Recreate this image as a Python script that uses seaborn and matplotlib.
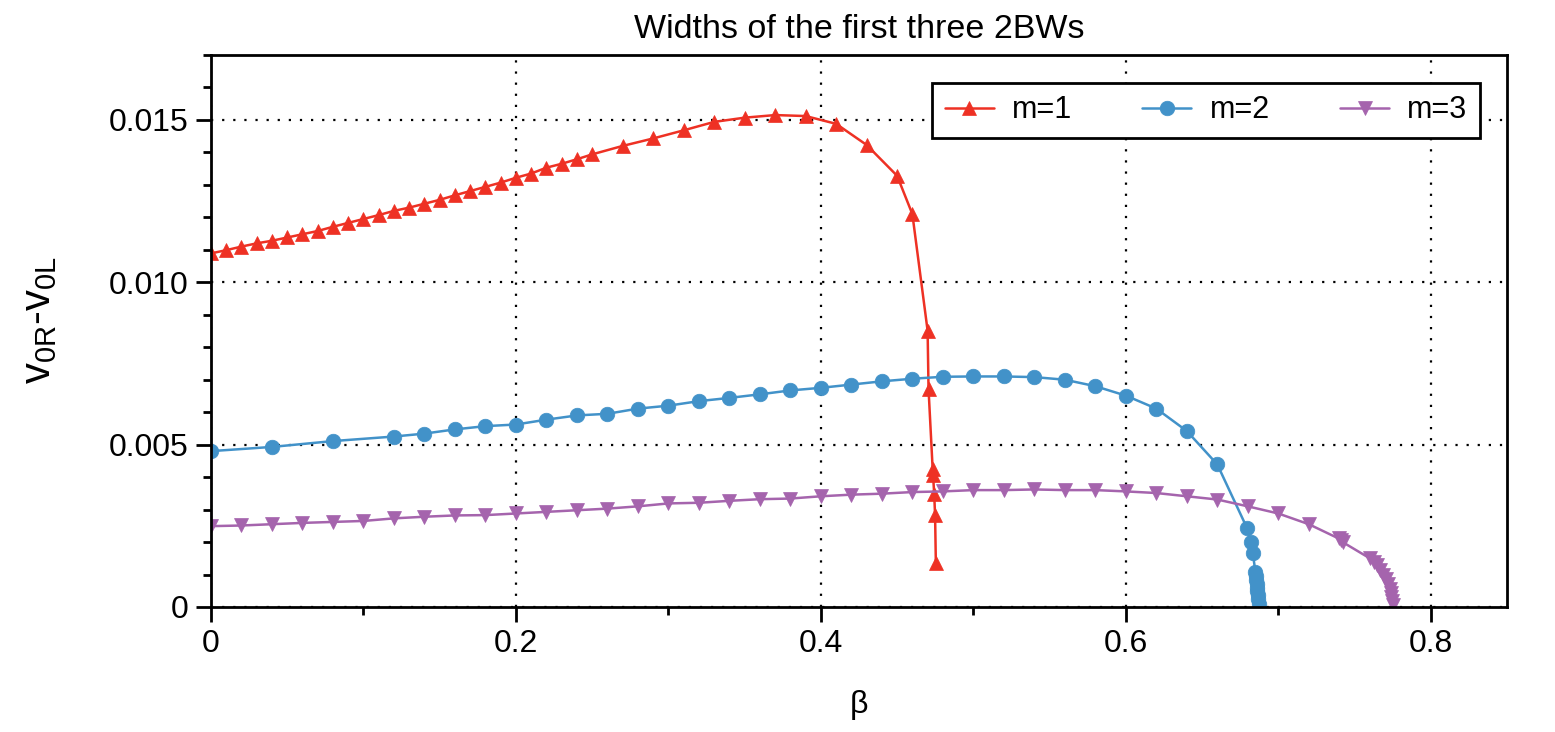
import numpy as np
import pandas as pd
import matplotlib
matplotlib.use("Agg")
import matplotlib.pyplot as plt
import seaborn as sns

# data
beta_m1 = [0.00, 0.01, 0.02, 0.03, 0.04, 0.05, 0.06, 0.07, 0.08, 0.09,
           0.10, 0.11, 0.12, 0.13, 0.14, 0.15, 0.16, 0.17, 0.18, 0.19,
           0.20, 0.21, 0.22, 0.23, 0.24, 0.25,
           0.27, 0.29, 0.31, 0.33, 0.35, 0.37, 0.39, 0.41, 0.43, 0.45,
           0.46, 0.470, 0.4706, 0.4733, 0.4736, 0.4743, 0.4749, 0.4754]
width_m1 = [0.01089, 0.01099, 0.01110, 0.01120, 0.01128, 0.01138, 0.01148, 0.01158, 0.01171, 0.01183,
            0.01195, 0.01207, 0.01220, 0.01230, 0.01242, 0.01254, 0.01268, 0.01281, 0.01294, 0.01307,
            0.01322, 0.01335, 0.01353, 0.01365, 0.01379, 0.01394,
            0.01420, 0.01443, 0.01468, 0.01494, 0.01507, 0.01515, 0.01512, 0.01488, 0.01423, 0.01328,
            0.01210, 0.00851, 0.00672, 0.00426, 0.00405, 0.00349, 0.00283, 0.00137]

beta_m2 = [0.00, 0.04, 0.08, 0.12, 0.14, 0.16, 0.18, 0.20, 0.22, 0.24,
           0.26, 0.28, 0.30, 0.32, 0.34, 0.36, 0.38, 0.40, 0.42, 0.44,
           0.46, 0.48, 0.50, 0.52, 0.54, 0.56, 0.58, 0.60, 0.62, 0.64,
           0.66, 0.6796, 0.6818, 0.6833, 0.6850, 0.6853, 0.6856, 0.6858,
           0.6860, 0.6862, 0.6864, 0.6866, 0.6872]
width_m2 = [0.00480, 0.00493, 0.00511, 0.00525, 0.00534, 0.00547, 0.00557, 0.00562, 0.00577, 0.00590,
            0.00595, 0.00611, 0.00620, 0.00634, 0.00644, 0.00655, 0.00667, 0.00675, 0.00685, 0.00695,
            0.00703, 0.00709, 0.00710, 0.00710, 0.00708, 0.00700, 0.00680, 0.00651, 0.00611, 0.00542,
            0.00439, 0.00242, 0.00201, 0.00165, 0.00108, 0.00096, 0.00084, 0.00072,
            0.00060, 0.00048, 0.00036, 0.00024, 0.00010]

beta_m3 = [0.00, 0.02, 0.04, 0.06, 0.08, 0.10, 0.12, 0.14, 0.16, 0.18,
           0.20, 0.22, 0.24, 0.26, 0.28, 0.30, 0.32, 0.34, 0.36, 0.38,
           0.40, 0.42, 0.44, 0.46, 0.48, 0.50, 0.52, 0.54, 0.56, 0.58,
           0.60, 0.62, 0.64, 0.66, 0.68, 0.70, 0.72,
           0.7396, 0.7410, 0.7425, 0.7600, 0.7625, 0.7645, 0.7665, 0.7685,
           0.7705, 0.7722, 0.7732, 0.7738, 0.7742, 0.7746, 0.7750]
width_m3 = [0.00249, 0.00251, 0.00255, 0.00259, 0.00262, 0.00265, 0.00273, 0.00278, 0.00282, 0.00283,
            0.00288, 0.00293, 0.00298, 0.00303, 0.00310, 0.00319, 0.00321, 0.00327, 0.00332, 0.00334,
            0.00341, 0.00346, 0.00349, 0.00354, 0.00356, 0.00360, 0.00360, 0.00362, 0.00360, 0.00360,
            0.00356, 0.00351, 0.00341, 0.00331, 0.00310, 0.00288, 0.00255,
            0.00211, 0.00206, 0.00199, 0.00150, 0.00140, 0.00128, 0.00115, 0.00100,
            0.00086, 0.00072, 0.00055, 0.00042, 0.00030, 0.00018, 0.00006]

labels = ["m=1", "m=2", "m=3"]
colors = ["#ee3124", "#4292c9", "#a564ad"]
markers = ["^", "o", "v"]

df = pd.concat([
    pd.DataFrame({"beta": beta_m1, "width": width_m1, "m": labels[0]}),
    pd.DataFrame({"beta": beta_m2, "width": width_m2, "m": labels[1]}),
    pd.DataFrame({"beta": beta_m3, "width": width_m3, "m": labels[2]}),
])

sns.set_style("ticks", rc={"axes.edgecolor": "black", "text.color": "black",
                           "axes.labelcolor": "black", "xtick.color": "black",
                           "ytick.color": "black"})
plt.rcParams["font.family"] = ["Liberation Sans", "DejaVu Sans"]
plt.rcParams["mathtext.fontset"] = "custom"
plt.rcParams["mathtext.rm"] = "Liberation Sans"
plt.rcParams["mathtext.it"] = "Liberation Sans"

fig = plt.figure(figsize=(15.55, 7.32), dpi=100)
ax = fig.add_axes([211 / 1555, 1 - 607 / 732, (1507 - 211) / 1555, (607 - 55) / 732])

for lab, col, mk in zip(labels, colors, markers):
    sub = df[df["m"] == lab]
    sns.lineplot(data=sub, x="beta", y="width", ax=ax, color=col, marker=mk,
                 markersize=10.5, markeredgecolor=col, markeredgewidth=0.5,
                 linewidth=1.8, estimator=None, sort=False, label=lab)

ax.set_xlim(0, 0.85)
ax.set_ylim(0, 0.017)
ax.set_xticks([0, 0.2, 0.4, 0.6, 0.8])
ax.set_xticklabels(["0", "0.2", "0.4", "0.6", "0.8"])
ax.set_yticks([0, 0.005, 0.010, 0.015])
ax.set_yticklabels(["0", "0.005", "0.010", "0.015"])
ax.set_xticks(np.arange(0, 0.85, 0.1), minor=True)
ax.set_yticks(np.arange(0, 0.0171, 0.001), minor=True)
ax.tick_params(axis="both", which="major", length=11, width=2, labelsize=23, pad=5)
ax.tick_params(axis="both", which="minor", length=6, width=2)
for s in ax.spines.values():
    s.set_linewidth(2)
    s.set_visible(True)

ax.grid(True, which="major", linestyle=(0, (1, 4)), color="black", linewidth=1.6)

ax.set_title("Widths of the first three 2BWs", fontsize=24.5, pad=12)
ax.set_xlabel("β", fontsize=23, labelpad=22)
ax.set_ylabel(r"v$_{\mathrm{0R}}$-v$_{\mathrm{0L}}$", fontsize=30)
ax.yaxis.set_label_coords(-0.117, 0.52)

leg = ax.legend(loc="upper right", bbox_to_anchor=(0.979, 0.949), borderaxespad=0,
                ncol=3, fontsize=22, frameon=True, fancybox=False,
                handlelength=1.6, columnspacing=2.3, handletextpad=0.6,
                borderpad=0.4)
leg.get_frame().set_edgecolor("black")
leg.get_frame().set_linewidth(2)
leg.get_frame().set_alpha(1)

fig.savefig("out.png", dpi=100)
